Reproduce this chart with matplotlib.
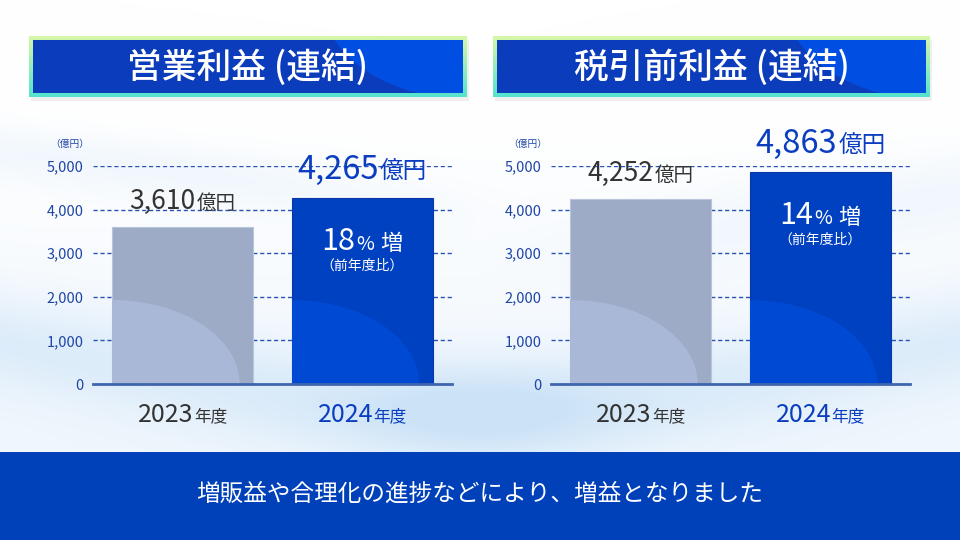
import numpy as np
import matplotlib.pyplot as plt
from matplotlib.patches import Rectangle, Ellipse
from matplotlib.offsetbox import TextArea, HPacker, AnnotationBbox

plt.rcParams['font.family'] = ['Noto Sans CJK JP', 'DejaVu Sans']

# data
years = ["2023", "2024"]
op_income = [3610, 4265]        # 営業利益（連結）, 億円
pretax_income = [4252, 4863]    # 税引前利益（連結）, 億円
op_growth = 18
pretax_growth = 14
yticks = [0, 1000, 2000, 3000, 4000, 5000]
titles = ["営業利益 (連結)", "税引前利益 (連結)"]
footer = "増販益や合理化の進捗などにより、増益となりました"

GRAY_BAR = "#9DABC6"
GRAY_LIGHT = "#A9B8D7"
BLUE_BAR = "#0041C1"
BLUE_LIGHT = "#004AD3"
AXIS_BLUE = "#1F45A5"
DARK = "#333333"
TEXT_BLUE = "#0A3DC0"

fig = plt.figure(figsize=(9.6, 5.4), dpi=100)

# ---- background layer in pixel coords
bg = fig.add_axes([0, 0, 1, 1])
bg.set_xlim(0, 960)
bg.set_ylim(540, 0)
bg.axis("off")

yy, xx = np.mgrid[0:540, 0:960].astype(float)
k = np.clip((yy - 120) / 330, 0, 1) * 0.30
k += 0.45 * np.exp(-((yy - (360 + 45 * np.sin((xx - 100) / 240))) / 50) ** 2)
k += 0.45 * np.exp(-((xx - 480) / 130) ** 2 - ((yy - 415) / 45) ** 2)
k += 0.22 * np.exp(-((yy - (150 + 0.12 * xx)) / 28) ** 2) * np.clip((520 - xx) / 300, 0, 1)
k += 0.20 * np.exp(-((yy - (260 - 0.15 * (xx - 500))) / 40) ** 2) * np.clip((xx - 480) / 300, 0, 1)
k = np.clip(k, 0, 1)
tint = np.array([0.80, 0.89, 0.97])
img = 1 - k[..., None] * (1 - tint)
bg.imshow(img, extent=(0, 960, 540, 0), aspect="auto", zorder=0)

# title boxes
border = np.linspace(0, 1, 64)[:, None, None]
border_img = (1 - border) * np.array([0.84, 0.97, 0.66]) + border * np.array([0.33, 0.89, 0.81])
border_img = np.repeat(border_img, 2, axis=1)
for x0, x1, title in [(29, 467, titles[0]), (493, 930, titles[1])]:
    bg.add_patch(Rectangle((x0 + 2, 40), x1 - x0, 61, color="#000000", alpha=0.06, lw=0, zorder=1))
    clip = Rectangle((x0, 36), x1 - x0, 61, transform=bg.transData)
    im = bg.imshow(border_img, extent=(x0, x1, 97, 36), aspect="auto", zorder=2)
    im.set_clip_path(clip)
    inner = Rectangle((x0 + 4, 40), x1 - x0 - 8, 53, color="#0B3CBC", lw=0, zorder=3)
    bg.add_patch(inner)
    shade = Ellipse((x1 + 5, 0), 300, 200, color="#004FE2", lw=0, zorder=3.5)
    bg.add_patch(shade)
    shade.set_clip_path(inner)
    bg.text((x0 + x1) / 2, 68, title, color="white", fontsize=25, fontweight="medium",
            ha="center", va="center", zorder=4)

# footer band
bg.add_patch(Rectangle((0, 452), 960, 88, color="#0041BA", lw=0, zorder=1))
bg.text(480, 494, footer, color="white", fontsize=17, ha="center", va="center", zorder=2)


def mixed(parts, ax, xy, offset, sep=1):
    boxes = [TextArea(s, textprops=dict(fontsize=fs, color=c)) for s, fs, c in parts]
    pack = HPacker(children=boxes, align="baseline", pad=0, sep=sep)
    ab = AnnotationBbox(pack, xy, xybox=(0, offset), boxcoords="offset points",
                        frameon=False, box_alignment=(0.5, 0.5), annotation_clip=False)
    ax.add_artist(ab)


def draw_panel(rect, values, growth):
    ax = fig.add_axes(rect)
    ax.patch.set_alpha(0)
    x = np.arange(len(years))
    bars = ax.bar(x, values, width=0.785, color=[GRAY_BAR, BLUE_BAR],
                  edgecolor=["#B9C5DA", "#0A36A8"], linewidth=0.8, zorder=3)
    for b, light in zip(bars, [GRAY_LIGHT, BLUE_LIGHT]):
        e = Ellipse((b.get_x(), 0), 2 * 0.71, 2 * 1925, color=light, lw=0, zorder=3.5)
        ax.add_patch(e)
        e.set_clip_path(b)

    ax.set_xlim(-0.5, 1.5)
    ax.set_ylim(0, 5000)
    ax.set_yticks(yticks)
    ax.set_yticklabels([f"{v:,}" for v in yticks])
    ax.set_xticks([])
    ax.tick_params(axis="y", length=0, pad=7, labelsize=10.5, labelcolor=AXIS_BLUE)
    for s in ["top", "right", "left"]:
        ax.spines[s].set_visible(False)
    ax.spines["bottom"].set_color("#3E65AE")
    ax.spines["bottom"].set_linewidth(2)
    ax.spines["bottom"].set_zorder(4)
    for v in yticks[1:]:
        ax.axhline(v, color="#2A52B5", lw=1, ls=(0, (3, 2)), zorder=1)

    ax.annotate("（億円）", xy=(0, 1), xycoords="axes fraction", xytext=(-17, 16),
                textcoords="offset points", fontsize=7, color=AXIS_BLUE,
                ha="center", va="center")

    # value labels above bars
    mixed([(f"{values[0]:,}", 19, DARK), ("億円", 14, DARK)], ax, (0, values[0]), 18)
    mixed([(f"{values[1]:,}", 23.5, TEXT_BLUE), ("億円", 17, TEXT_BLUE)], ax, (1, values[1]), 20)

    # growth inside the 2024 bar
    mixed([(str(growth), 22, "white"), ("%", 14, "white"), (" 増", 16, "white")],
          ax, (1, values[1]), -31)
    ax.annotate("（前年度比）", xy=(1, values[1]), xytext=(0, -49), textcoords="offset points",
                fontsize=10, color="white", ha="center", va="center", zorder=5)

    # year labels
    for i, yr in enumerate(years):
        c = DARK if i == 0 else TEXT_BLUE
        mixed([(yr, 18, c), ("年度", 12, c)], ax, (i, 0), -22, sep=0)
    return ax


draw_panel([93 / 960, 156 / 540, 359 / 960, 218 / 540], op_income, op_growth)
draw_panel([551 / 960, 156 / 540, 359 / 960, 218 / 540], pretax_income, pretax_growth)

fig.savefig("out.png", dpi=100)
